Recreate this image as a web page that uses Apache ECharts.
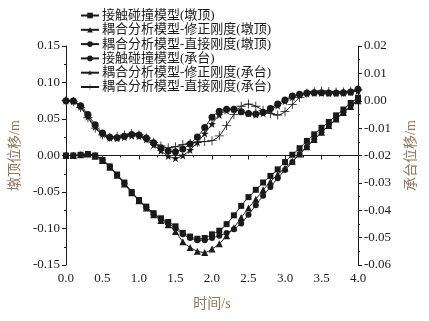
<!DOCTYPE html>
<html>
<head>
<meta charset="utf-8">
<script src="https://cdn.jsdelivr.net/npm/echarts@6/dist/echarts.min.js"></script>
<style>
  html, body {margin: 0; padding: 0; background: #fff;}
  #chart {width: 429px; height: 321px;}
</style>
</head>
<body>
<div id="chart"></div>
<script>
// time (s)
const times = [0, 0.1, 0.2, 0.3, 0.4, 0.5, 0.6, 0.7, 0.8, 0.9, 1.0, 1.1, 1.2, 1.3, 1.4, 1.5, 1.6, 1.7, 1.8, 1.9,
  2.0, 2.1, 2.2, 2.3, 2.4, 2.5, 2.6, 2.7, 2.8, 2.9, 3.0, 3.1, 3.2, 3.3, 3.4, 3.5, 3.6, 3.7, 3.8, 3.9, 4.0];

// 墩顶位移 (m), left axis
const pierContact = [0, 0, 0.001, 0.002, 0.000, -0.006, -0.015, -0.026, -0.037, -0.050,
  -0.061, -0.070, -0.079, -0.086, -0.091, -0.097, -0.106, -0.111, -0.114, -0.113,
  -0.108, -0.103, -0.094, -0.082, -0.069, -0.057, -0.047, -0.037, -0.028, -0.019,
  -0.009, 0.001, 0.010, 0.020, 0.029, 0.038, 0.046, 0.055, 0.063, 0.072, 0.079];
const pierModified = [0, 0, 0.001, 0.002, -0.001, -0.007, -0.016, -0.027, -0.039, -0.051,
  -0.062, -0.072, -0.081, -0.089, -0.095, -0.104, -0.118, -0.126, -0.131, -0.133,
  -0.128, -0.121, -0.110, -0.099, -0.085, -0.072, -0.060, -0.047, -0.036, -0.026,
  -0.017, -0.008, 0.002, 0.012, 0.022, 0.032, 0.041, 0.050, 0.059, 0.067, 0.075];
const pierDirect = [0, 0, 0.001, 0.002, 0.000, -0.006, -0.015, -0.027, -0.038, -0.050,
  -0.061, -0.071, -0.080, -0.087, -0.093, -0.100, -0.108, -0.113, -0.116, -0.116,
  -0.113, -0.110, -0.106, -0.101, -0.093, -0.081, -0.068, -0.055, -0.043, -0.031,
  -0.020, -0.009, 0.002, 0.012, 0.022, 0.032, 0.041, 0.050, 0.059, 0.068, 0.077];

// 承台位移 (m), right axis
const capContact = [0, -0.0001, -0.0018, -0.0050, -0.0088, -0.0118, -0.0133, -0.0135, -0.0130, -0.0123,
  -0.0125, -0.0136, -0.0153, -0.0172, -0.0184, -0.0186, -0.0176, -0.0158, -0.0132, -0.0098,
  -0.0060, -0.0038, -0.0031, -0.0031, -0.0040, -0.0047, -0.0048, -0.0042, -0.0028, -0.0012,
  0.0003, 0.0017, 0.0024, 0.0028, 0.0029, 0.0029, 0.0028, 0.0028, 0.0029, 0.0032, 0.0042];
const capModified = [0, -0.0002, -0.0022, -0.0058, -0.0095, -0.0122, -0.0135, -0.0137, -0.0133, -0.0128,
  -0.0130, -0.0142, -0.0162, -0.0183, -0.0202, -0.0210, -0.0200, -0.0180, -0.0152, -0.0120,
  -0.0085, -0.0052, -0.0036, -0.0032, -0.0039, -0.0046, -0.0050, -0.0046, -0.0034, -0.0018,
  -0.0002, 0.0013, 0.0022, 0.0026, 0.0028, 0.0028, 0.0027, 0.0027, 0.0028, 0.0031, 0.0036];
const capDirect = [0, -0.0003, -0.0025, -0.0062, -0.0100, -0.0125, -0.0133, -0.0130, -0.0125, -0.0120,
  -0.0124, -0.0136, -0.0152, -0.0165, -0.0172, -0.0168, -0.0160, -0.0155, -0.0152, -0.0149,
  -0.0146, -0.0128, -0.0090, -0.0050, -0.0020, -0.0012, -0.0020, -0.0035, -0.0047, -0.0052,
  -0.0040, -0.0014, 0.0012, 0.0027, 0.0033, 0.0036, 0.0034, 0.0032, 0.0032, 0.0035, 0.0040];

const names = [
  '接触碰撞模型(墩顶)',
  '耦合分析模型-修正刚度(墩顶)',
  '耦合分析模型-直接刚度(墩顶)',
  '接触碰撞模型(承台)',
  '耦合分析模型-修正刚度(承台)',
  '耦合分析模型-直接刚度(承台)'
];

const STAR = 'path://M0,-10L2.35,-3.24L9.51,-3.09L3.8,1.24L5.88,8.09L0,4L-5.88,8.09L-3.8,1.24L-9.51,-3.09L-2.35,-3.24Z';
const PLUS = 'path://M-0.9,-10L0.9,-10L0.9,-0.9L10,-0.9L10,0.9L0.9,0.9L0.9,10L-0.9,10L-0.9,0.9L-10,0.9L-10,-0.9L-0.9,-0.9Z';

const FONT = "'Liberation Serif', 'Noto Sans CJK SC', serif";
const INK = '#1a1a1a';
const NAME_COLOR = '#8f7761';

const pair = (vals) => times.map((t, i) => [t, vals[i]]);

const chart = echarts.init(document.getElementById('chart'));
chart.setOption({
  animation: false,
  textStyle: {fontFamily: FONT},
  legend: {
    orient: 'vertical',
    left: 75,
    top: 4,
    itemWidth: 18,
    itemHeight: 7,
    itemGap: 1.3,
    textStyle: {fontFamily: FONT, fontSize: 13, lineHeight: 13, color: INK, padding: [0, 0, 0, -2]},
    data: names
  },
  grid: {left: 63, right: 71, top: 46, bottom: 56},
  xAxis: {
    type: 'value',
    min: 0,
    max: 4,
    interval: 0.5,
    name: '时间/s',
    nameLocation: 'middle',
    nameGap: 32,
    nameTextStyle: {fontFamily: FONT, fontSize: 14, color: NAME_COLOR},
    axisLine: {lineStyle: {color: INK, width: 1}},
    axisTick: {length: 4, lineStyle: {color: INK}},
    minorTick: {show: true, splitNumber: 2, length: 2, lineStyle: {color: INK}},
    axisLabel: {fontFamily: 'Liberation Serif', fontSize: 13, color: INK, margin: 7, formatter: v => v.toFixed(1)},
    splitLine: {show: false}
  },
  yAxis: [
    {
      type: 'value',
      min: -0.15,
      max: 0.15,
      interval: 0.05,
      name: '墩顶位移/m',
      nameLocation: 'middle',
      nameGap: 44,
      nameRotate: 90,
      nameTextStyle: {fontFamily: FONT, fontSize: 14, color: NAME_COLOR},
      axisLine: {show: true, onZero: false, lineStyle: {color: INK, width: 1}},
      axisTick: {show: true, length: 4, lineStyle: {color: INK}},
      minorTick: {show: true, splitNumber: 2, length: 2, lineStyle: {color: INK}},
      axisLabel: {fontFamily: 'Liberation Serif', fontSize: 13, color: INK, margin: 6, formatter: v => v.toFixed(2)},
      splitLine: {show: false}
    },
    {
      type: 'value',
      position: 'right',
      min: -0.06,
      max: 0.02,
      interval: 0.01,
      name: '承台位移/m',
      nameLocation: 'middle',
      nameGap: 46,
      nameRotate: 90,
      nameTextStyle: {fontFamily: FONT, fontSize: 14, color: NAME_COLOR},
      axisLine: {show: true, onZero: false, lineStyle: {color: INK, width: 1}},
      axisTick: {show: true, length: 4, lineStyle: {color: INK}},
      minorTick: {show: true, splitNumber: 2, length: 2, lineStyle: {color: INK}},
      axisLabel: {fontFamily: 'Liberation Serif', fontSize: 13, color: INK, margin: 6, formatter: v => v.toFixed(2)},
      splitLine: {show: false}
    }
  ],
  series: [
    {name: names[0], yAxisIndex: 0, symbol: 'rect', symbolSize: 6, data: pair(pierContact)},
    {name: names[1], yAxisIndex: 0, symbol: 'triangle', symbolSize: 7, data: pair(pierModified)},
    {name: names[2], yAxisIndex: 0, symbol: 'circle', symbolSize: 6, data: pair(pierDirect)},
    {name: names[3], yAxisIndex: 1, symbol: 'circle', symbolSize: 7, data: pair(capContact)},
    {name: names[4], yAxisIndex: 1, symbol: STAR, symbolSize: 8, data: pair(capModified)},
    {name: names[5], yAxisIndex: 1, symbol: PLUS, symbolSize: 9, data: pair(capDirect)}
  ].map(s => ({
    ...s,
    type: 'line',
    smooth: 0.3,
    showAllSymbol: true,
    color: INK,
    itemStyle: {color: INK},
    lineStyle: {color: INK, width: 1}
  }))
});
</script>
</body>
</html>
